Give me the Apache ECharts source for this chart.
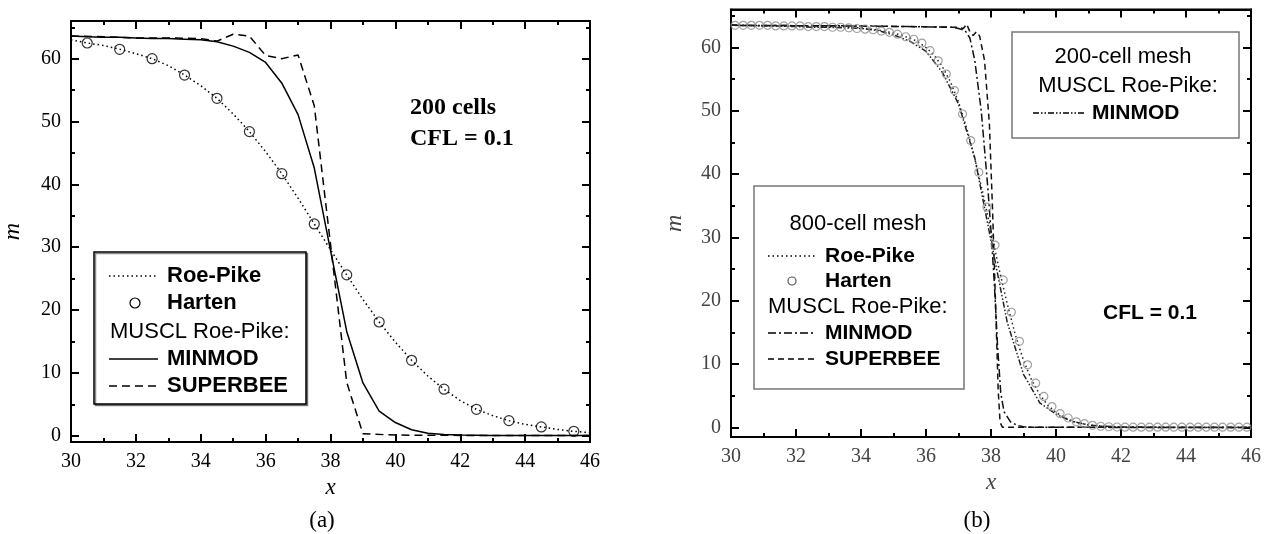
<!DOCTYPE html>
<html>
<head>
<meta charset="utf-8">
<title>m vs x</title>
<script src="https://cdn.jsdelivr.net/npm/echarts@6/dist/echarts.min.js"></script>
<style>
  html, body { margin: 0; padding: 0; background: #fff; }
  #chart { width: 1264px; height: 534px; }
</style>
</head>
<body>
<div id="chart"></div>
<script>
// ---- panel (a): 200 cells ----
const roePikeA_x = [30, 30.5, 31, 31.5, 32, 32.5, 33, 33.5, 34, 34.5, 35, 35.5, 36, 36.5, 37, 37.5, 38, 38.5, 39, 39.5, 40, 40.5, 41, 41.5, 42, 42.5, 43, 43.5, 44, 44.5, 45, 45.5, 46];
const roePikeA_m = [63.0, 62.5, 62.1, 61.5, 60.8, 60.0, 58.9, 57.4, 55.7, 53.7, 51.2, 48.4, 45.2, 41.7, 37.8, 33.7, 29.6, 25.6, 21.7, 18.1, 14.9, 12.0, 9.5, 7.4, 5.6, 4.2, 3.2, 2.4, 1.8, 1.4, 1.0, 0.7, 0.5];

const hartenA_x = [30.5, 31.5, 32.5, 33.5, 34.5, 35.5, 36.5, 37.5, 38.5, 39.5, 40.5, 41.5, 42.5, 43.5, 44.5, 45.5];
const hartenA_m = [62.5, 61.5, 60.0, 57.4, 53.7, 48.4, 41.7, 33.7, 25.6, 18.1, 12.0, 7.4, 4.2, 2.4, 1.4, 0.7];

const minmodA_x = [30, 30.5, 31, 31.5, 32, 32.5, 33, 33.5, 34, 34.5, 35, 35.5, 36, 36.5, 37, 37.5, 38, 38.5, 39, 39.5, 40, 40.5, 41, 41.5, 42, 43, 44, 45, 46];
const minmodA_m = [63.6, 63.5, 63.4, 63.4, 63.3, 63.2, 63.2, 63.1, 63.0, 62.7, 62.0, 61.0, 59.4, 56.1, 51.1, 42.6, 29.5, 16.6, 8.4, 3.9, 2.1, 0.95, 0.4, 0.2, 0.1, 0.05, 0.05, 0.05, 0.05];

const superbeeA_x = [30, 31, 32, 33, 34, 34.5, 35, 35.5, 36, 36.5, 37, 37.5, 38, 38.5, 39, 40, 42, 44, 46];
const superbeeA_m = [63.6, 63.5, 63.3, 63.3, 63.2, 62.8, 63.9, 63.6, 60.5, 60.0, 60.6, 52.5, 30.5, 8.5, 0.3, 0.1, 0.05, 0.05, 0.05];

// ---- panel (b): 800 cells (plus 200-cell MINMOD) ----
const roePikeB_x = [30, 33, 34, 34.5, 35, 35.5, 35.75, 36, 36.25, 36.5, 36.75, 37, 37.25, 37.5, 37.75, 38, 38.25, 38.5, 38.75, 39, 39.25, 39.5, 39.75, 40, 40.25, 40.5, 40.75, 41, 41.5, 42, 46];
const roePikeB_m = [63.5, 63.3, 63.1, 62.8, 62.3, 61.5, 60.9, 60.0, 58.8, 57.0, 54.6, 51.4, 47.3, 42.5, 37.0, 31.0, 25.0, 19.5, 14.6, 10.6, 7.5, 5.2, 3.5, 2.4, 1.6, 1.0, 0.65, 0.4, 0.15, 0.05, 0];

const hartenB_x = [30.125, 30.375, 30.625, 30.875, 31.125, 31.375, 31.625, 31.875, 32.125, 32.375, 32.625, 32.875, 33.125, 33.375, 33.625, 33.875,
  34.125, 34.375, 34.625, 34.875, 35.125, 35.375, 35.625, 35.875, 36.125, 36.375, 36.625, 36.875, 37.125, 37.375, 37.625, 37.875,
  38.125, 38.375, 38.625, 38.875, 39.125, 39.375, 39.625, 39.875, 40.125, 40.375, 40.625, 40.875, 41.125, 41.375, 41.625, 41.875,
  42.125, 42.375, 42.625, 42.875, 43.125, 43.375, 43.625, 43.875, 44.125, 44.375, 44.625, 44.875, 45.125, 45.375, 45.625, 45.875];
const hartenB_m = [63.5, 63.5, 63.5, 63.5, 63.5, 63.4, 63.4, 63.4, 63.4, 63.3, 63.3, 63.3, 63.2, 63.2, 63.1, 63.0,
  62.9, 62.8, 62.6, 62.4, 62.1, 61.7, 61.3, 60.7, 59.5, 57.9, 55.8, 53.2, 49.5, 45.3, 40.3, 34.8,
  28.8, 23.3, 18.2, 13.6, 9.9, 7.0, 4.9, 3.3, 2.2, 1.5, 0.9, 0.6, 0.35, 0.2, 0.12, 0.08,
  0.05, 0.05, 0.05, 0.05, 0.05, 0.05, 0.05, 0.05, 0.05, 0.05, 0.05, 0.05, 0.05, 0.05, 0.05, 0.05];

const minmodB_x = [30, 34, 36.8, 37.0, 37.2, 37.35, 37.5, 37.7, 37.9, 38.0, 38.1, 38.2, 38.3, 38.4, 38.6, 38.8, 39.0, 39.3, 46];
const minmodB_m = [63.5, 63.4, 63.2, 63.0, 62.7, 61.5, 58.0, 50.0, 38.0, 31.0, 23.0, 13.0, 5.5, 2.5, 0.9, 0.35, 0.12, 0.03, 0];

const superbeeB_x = [30, 34, 37.0, 37.15, 37.25, 37.35, 37.45, 37.55, 37.65, 37.8, 37.95, 38.05, 38.15, 38.22, 38.28, 38.35, 46];
const superbeeB_m = [63.5, 63.4, 63.2, 63.0, 63.7, 62.5, 61.9, 62.5, 61.8, 58.0, 48.0, 34.0, 18.0, 6.0, 0.8, 0.05, 0];

// axis ticks
const xMin = 30, xMax = 46, xStep = 2;
const mMaxA = 66, mMinA = -1;
const mMaxB = 66, mMinB = -1.5;
const mLabels = [0, 10, 20, 30, 40, 50, 60];
const mMinorTicks = [5, 15, 25, 35, 45, 55, 65];

const zip = (xs, ys) => xs.map((x, i) => [x, ys[i]]);

const serif = '"Liberation Serif", "Times New Roman", serif';
const sans = '"Liberation Sans", Arial, sans-serif';

function xAxes(g, labelColor) {
  const base = {
    gridIndex: g, type: 'value', min: xMin, max: xMax, interval: xStep,
    axisLine: { show: true, onZero: false, lineStyle: { color: '#000', width: 2 } },
    axisTick: { show: true, inside: true, length: 8, lineStyle: { color: '#000', width: 2 } },
    minorTick: { show: true, splitNumber: 2, length: 4, lineStyle: { color: '#000', width: 2 } },
    splitLine: { show: false }, minorSplitLine: { show: false }
  };
  return [
    Object.assign({}, base, {
      position: 'bottom',
      axisLabel: { margin: 10, fontFamily: serif, fontSize: 20, color: labelColor },
      name: 'x', nameLocation: 'middle', nameGap: 28,
      nameTextStyle: { fontFamily: serif, fontStyle: 'italic', fontSize: 23, color: labelColor }
    }),
    Object.assign({}, base, { position: 'top', axisLabel: { show: false } })
  ];
}

function yAxes(g, labelColor, nameGap, lo, hi) {
  const base = {
    gridIndex: g, type: 'value', min: lo, max: hi,
    splitLine: { show: false }
  };
  const major = {
    axisLine: { show: true, onZero: false, lineStyle: { color: '#000', width: 2 } },
    axisTick: { show: true, inside: true, length: 8, customValues: mLabels, lineStyle: { color: '#000', width: 2 } }
  };
  const minor = {
    axisLine: { show: false },
    axisTick: { show: true, inside: true, length: 4, customValues: mMinorTicks, lineStyle: { color: '#000', width: 2 } },
    axisLabel: { show: false }
  };
  return [
    Object.assign({}, base, major, {
      position: 'left',
      axisLabel: { customValues: mLabels, margin: 10, fontFamily: serif, fontSize: 20, color: labelColor },
      name: 'm', nameLocation: 'middle', nameGap: nameGap, nameRotate: 90,
      nameTextStyle: { fontFamily: serif, fontStyle: 'italic', fontSize: 24, color: labelColor }
    }),
    Object.assign({}, base, minor, { position: 'left' }),
    Object.assign({}, base, major, { position: 'right', axisLabel: { show: false } }),
    Object.assign({}, base, minor, { position: 'right' })
  ];
}

function lineSeries(name, data, xi, yi, dash, color) {
  return {
    name: name, type: 'line', data: data, xAxisIndex: xi, yAxisIndex: yi,
    showSymbol: false, symbol: 'none', animation: false,
    lineStyle: { color: color || '#000', width: 1.5, type: dash }
  };
}

function circleSeries(name, data, xi, yi, size, color) {
  return {
    name: name, type: 'scatter', data: data, xAxisIndex: xi, yAxisIndex: yi,
    symbol: 'circle', symbolSize: size, animation: false, z: 5,
    itemStyle: { color: 'rgba(255,255,255,0)', borderColor: color, borderWidth: 1.2 }
  };
}

const dotted = [1.5, 3];
const dashed = [8, 5];
const dashDot = [8, 3, 2, 3];
const dashDotDot = [6, 2, 1.5, 2, 1.5, 2];

// legend helpers (graphic)
function legLine(x1, x2, y, dash) {
  return { type: 'line', shape: { x1: x1, y1: y, x2: x2, y2: y }, style: { stroke: '#000', lineWidth: 1.5, lineDash: dash }, z: 100 };
}
function legText(x, y, text, bold, size, align, font) {
  return {
    type: 'text', x: x, y: y, z: 100,
    style: { text: text, fontFamily: font || sans, fontSize: size, fontWeight: bold ? 'bold' : 'normal', fill: '#000', align: align || 'left', verticalAlign: 'middle' }
  };
}
function legBox(x, y, w, h, stroke, shadow) {
  return {
    type: 'rect', shape: { x: x, y: y, width: w, height: h }, z: 90,
    style: { fill: '#fff', stroke: stroke, lineWidth: 1.5, shadowColor: shadow ? 'rgba(0,0,0,0.45)' : 'rgba(0,0,0,0)', shadowOffsetX: 1.5, shadowOffsetY: 1.5 }
  };
}

const chart = echarts.init(document.getElementById('chart'), null, { renderer: 'canvas' });

const option = {
  backgroundColor: '#fff',
  animation: false,
  grid: [
    { left: 71, top: 21, width: 519, height: 421, show: true, borderColor: '#000', borderWidth: 2 },
    { left: 731, top: 9.5, width: 525, height: 427.5, show: true, borderColor: '#000', borderWidth: 2 }
  ],
  xAxis: [].concat(xAxes(0, '#000'), xAxes(1, '#444')),
  yAxis: [].concat(yAxes(0, '#000', 46, mMinA, mMaxA), yAxes(1, '#444', 44, mMinB, mMaxB)),
  series: [
    lineSeries('Roe-Pike', zip(roePikeA_x, roePikeA_m), 0, 0, dotted),
    circleSeries('Harten', zip(hartenA_x, hartenA_m), 0, 0, 10, '#000'),
    lineSeries('MINMOD', zip(minmodA_x, minmodA_m), 0, 0, 'solid'),
    lineSeries('SUPERBEE', zip(superbeeA_x, superbeeA_m), 0, 0, dashed),

    lineSeries('Roe-Pike 800', zip(roePikeB_x, roePikeB_m), 2, 4, dotted, '#222'),
    circleSeries('Harten 800', zip(hartenB_x, hartenB_m), 2, 4, 8, '#8a8a8a'),
    lineSeries('MINMOD 800', zip(minmodB_x, minmodB_m), 2, 4, dashDot, '#111'),
    lineSeries('SUPERBEE 800', zip(superbeeB_x, superbeeB_m), 2, 4, [6, 4], '#111'),
    lineSeries('MINMOD 200', zip(minmodA_x, minmodA_m), 2, 4, dashDotDot, '#222')
  ],
  graphic: [
    // panel (a) legend
    legBox(94, 252, 212, 152, '#000', true),
    legLine(109, 158, 276, dotted), legText(167, 276, 'Roe-Pike', true, 22),
    { type: 'circle', shape: { cx: 135, cy: 303, r: 5 }, style: { fill: 'none', stroke: '#000', lineWidth: 1.2 }, z: 100 },
    legText(167, 303, 'Harten', true, 22),
    legText(110, 332, 'MUSCL Roe-Pike:', false, 22),
    legLine(109, 158, 359, []), legText(167, 359, 'MINMOD', true, 22),
    legLine(109, 158, 386, dashed), legText(167, 386, 'SUPERBEE', true, 22),
    legText(410, 108, '200 cells', true, 24, 'left', serif),
    legText(410, 139, 'CFL = 0.1', true, 24, 'left', serif),
    legText(322, 521, '(a)', false, 23, 'center', serif),

    // panel (b) legends
    legBox(1012, 32, 227, 106, '#777', false),
    legText(1123, 57, '200-cell mesh', false, 22, 'center'),
    legText(1128, 86, 'MUSCL Roe-Pike:', false, 22, 'center'),
    legLine(1033, 1086, 113, dashDotDot), legText(1092, 113, 'MINMOD', true, 21),

    legBox(754, 186, 210, 203, '#777', false),
    legText(858, 224, '800-cell mesh', false, 22, 'center'),
    legLine(768, 816, 256, dotted), legText(825, 256, 'Roe-Pike', true, 21),
    { type: 'circle', shape: { cx: 792, cy: 281, r: 4 }, style: { fill: 'none', stroke: '#555', lineWidth: 1.2 }, z: 100 },
    legText(825, 281, 'Harten', true, 21),
    legText(768, 307, 'MUSCL Roe-Pike:', false, 22),
    legLine(768, 816, 333, dashDot), legText(825, 333, 'MINMOD', true, 21),
    legLine(768, 816, 359, [6, 4]), legText(825, 359, 'SUPERBEE', true, 21),

    legText(1150, 313, 'CFL = 0.1', true, 21, 'center'),
    legText(977, 521, '(b)', false, 23, 'center', serif)
  ]
};

chart.setOption(option);
</script>
</body>
</html>
